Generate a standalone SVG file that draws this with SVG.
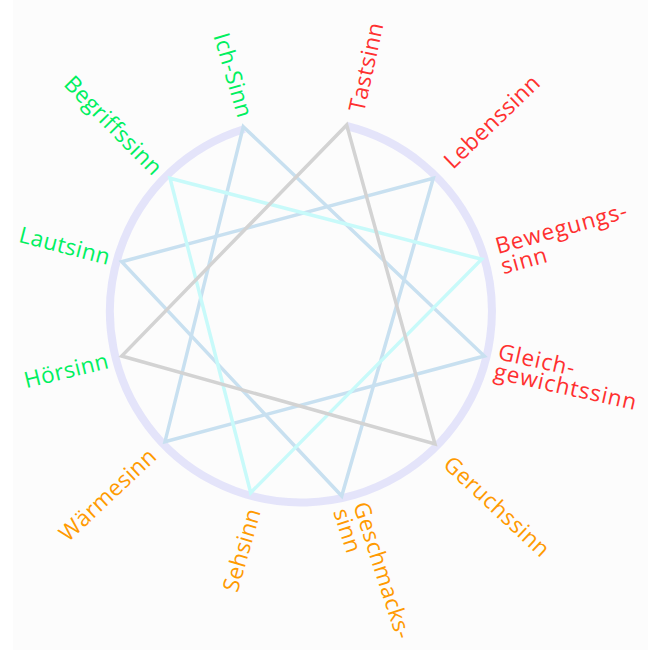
<svg xmlns="http://www.w3.org/2000/svg" width="648" height="650" viewBox="0 0 648 650">
<style>
.lbl{font-family:"Open Sans","DejaVu Sans",sans-serif;font-size:22.5px;letter-spacing:0.4px}
.w{letter-spacing:0.9px}
.g{fill:#00f060}
.r{fill:#ff3030}
.o{fill:#ff9a00}
.e{text-anchor:end}
.tri{fill:none;stroke-width:3.5}
</style>
<rect x="0" y="0" width="648" height="650" fill="#ffffff"/>
<rect x="13" y="0" width="635" height="650" fill="#fcfcfc"/>
<g id="connectors">
<path id="ring" d="M346.5,126 A191,191 0 1 1 244.5,129" fill="none" stroke="#e4e4fa" stroke-width="8"/>
<polygon class="tri" points="243.3,126.7 484.3,356 165,441.7" stroke="#c8e0f0"/>
<polygon class="tri" points="433.3,178.3 341.7,496 121.7,261.7" stroke="#c8e0f0"/>
<polygon class="tri" points="170,178.3 481.7,259.3 250.7,492.7" stroke="#c8fafa"/>
<polygon class="tri" points="346.7,125 435,444 121.7,356" stroke="#d3d3d3"/>
</g>
<g id="ich-sinn"><text class="lbl g e" transform="translate(238,119) rotate(73.5)">Ich-Sinn</text></g>
<g id="tastsinn"><text class="lbl r" transform="translate(364,113) rotate(-77.5)">Tastsinn</text></g>
<g id="lebenssinn"><text class="lbl r" transform="translate(453,170) rotate(-44)">Lebenssinn</text></g>
<g id="bewegungssinn"><text class="lbl r w" transform="translate(498,254) rotate(-15.5)"><tspan x="0" y="0">Bewegungs-</tspan><tspan x="0" y="21">sinn</tspan></text></g>
<g id="gleichgewichtssinn"><text class="lbl r w" transform="translate(497,359) rotate(12.5)"><tspan x="0" y="0">Gleich-</tspan><tspan x="0" y="20">gewichtssinn</tspan></text></g>
<g id="geruchssinn"><text class="lbl o" transform="translate(442,466) rotate(43)">Geruchssinn</text></g>
<g id="geschmackssinn"><text class="lbl o" transform="translate(353,505) rotate(72)"><tspan x="0" y="0">Geschmacks-</tspan><tspan x="0" y="21">sinn</tspan></text></g>
<g id="sehsinn"><text class="lbl o e" transform="translate(261,511) rotate(-74)">Sehsinn</text></g>
<g id="waermesinn"><text class="lbl o e" transform="translate(158,458) rotate(-43.3)">Wärmesinn</text></g>
<g id="hoersinn"><text class="lbl g e" transform="translate(110,368) rotate(-13.6)">Hörsinn</text></g>
<g id="lautsinn"><text class="lbl g e" transform="translate(108,265) rotate(14.5)">Lautsinn</text></g>
<g id="begriffssinn"><text class="lbl g e" transform="translate(153,177) rotate(45.5)">Begriffssinn</text></g>
</svg>
